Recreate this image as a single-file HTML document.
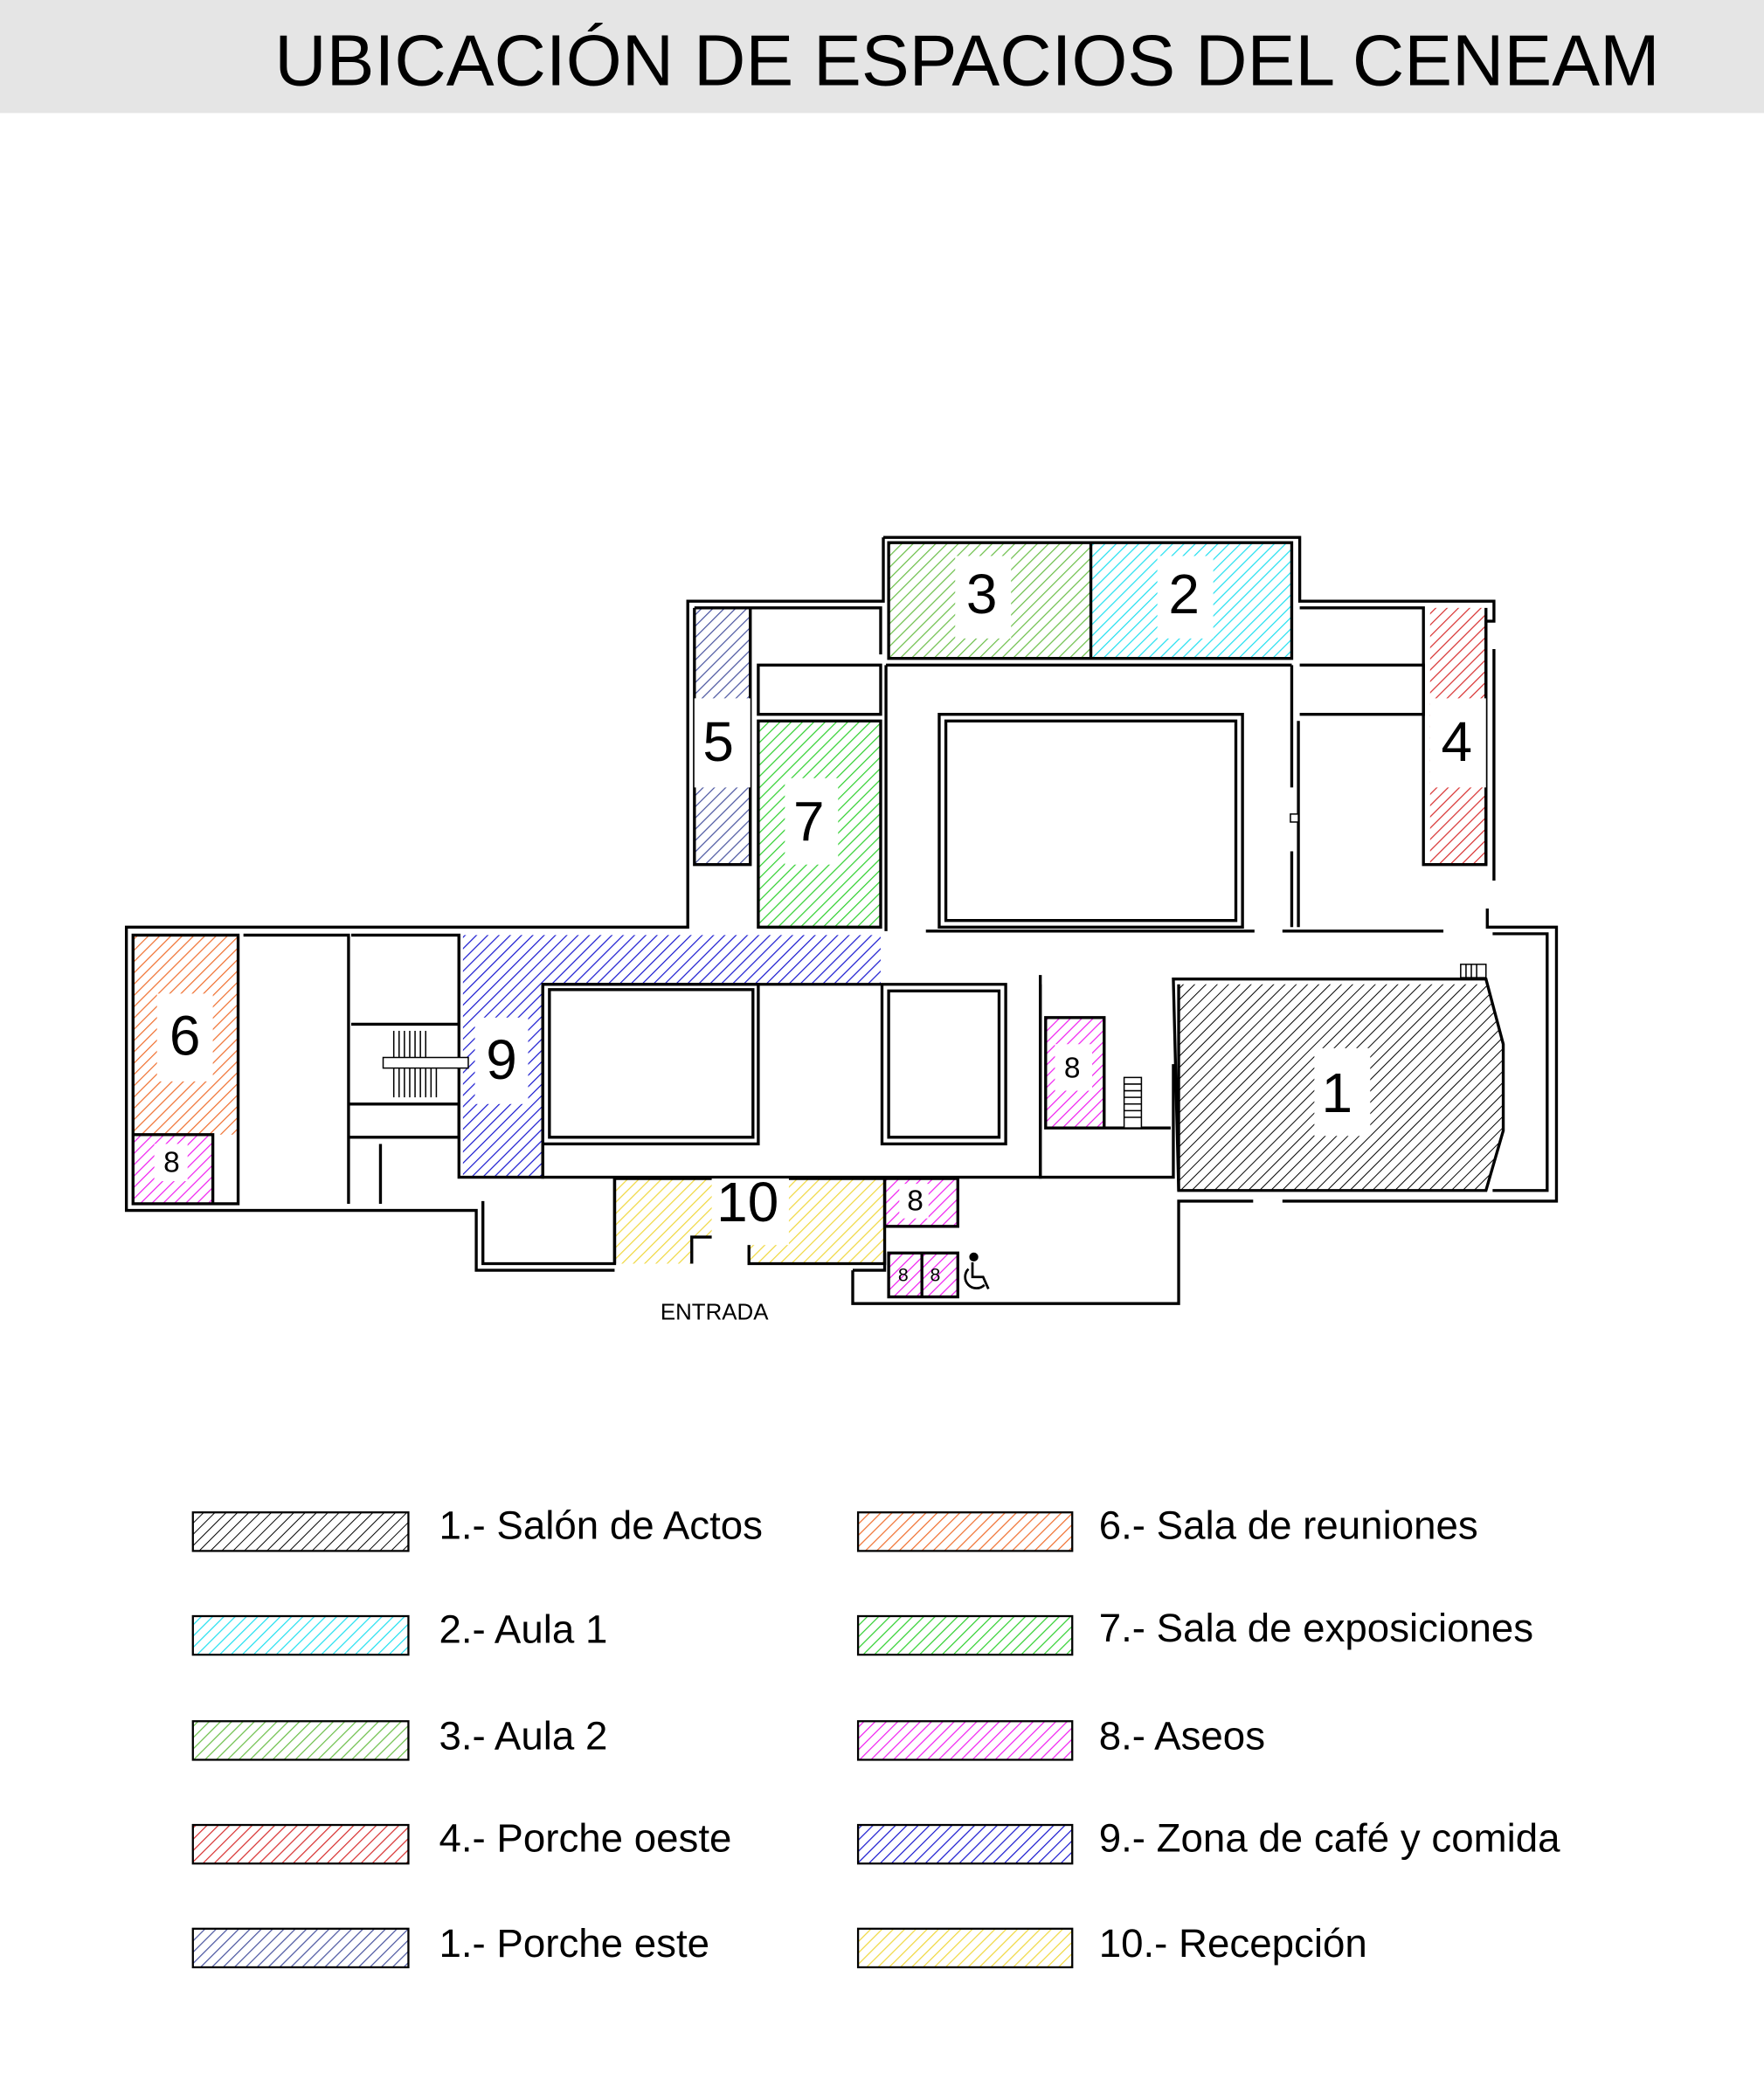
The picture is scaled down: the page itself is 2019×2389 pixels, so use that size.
<!DOCTYPE html>
<html><head><meta charset="utf-8"><style>
html,body{margin:0;padding:0;background:#fff}
svg{display:block}
text{font-family:"Liberation Sans",sans-serif}
</style></head><body>
<svg width="2019" height="2389" viewBox="0 0 1326 1569" xmlns="http://www.w3.org/2000/svg">
<defs>
<pattern id="hk" width="6" height="6" patternUnits="userSpaceOnUse" patternTransform="rotate(45)"><line x1="0" y1="0" x2="0" y2="6" stroke="#000" stroke-width="1.3"/></pattern>
<pattern id="hc" width="6" height="6" patternUnits="userSpaceOnUse" patternTransform="rotate(45)"><line x1="0" y1="0" x2="0" y2="6" stroke="#22e0f0" stroke-width="1.6"/></pattern>
<pattern id="hg" width="6" height="6" patternUnits="userSpaceOnUse" patternTransform="rotate(45)"><line x1="0" y1="0" x2="0" y2="6" stroke="#6cbf4a" stroke-width="1.6"/></pattern>
<pattern id="hr" width="6" height="6" patternUnits="userSpaceOnUse" patternTransform="rotate(45)"><line x1="0" y1="0" x2="0" y2="6" stroke="#d83030" stroke-width="1.6"/></pattern>
<pattern id="hn" width="6" height="6" patternUnits="userSpaceOnUse" patternTransform="rotate(45)"><line x1="0" y1="0" x2="0" y2="6" stroke="#4a55a0" stroke-width="1.6"/></pattern>
<pattern id="ho" width="6" height="6" patternUnits="userSpaceOnUse" patternTransform="rotate(45)"><line x1="0" y1="0" x2="0" y2="6" stroke="#f07030" stroke-width="1.6"/></pattern>
<pattern id="hl" width="6" height="6" patternUnits="userSpaceOnUse" patternTransform="rotate(45)"><line x1="0" y1="0" x2="0" y2="6" stroke="#30d030" stroke-width="1.6"/></pattern>
<pattern id="hm" width="6" height="6" patternUnits="userSpaceOnUse" patternTransform="rotate(45)"><line x1="0" y1="0" x2="0" y2="6" stroke="#f020f0" stroke-width="1.6"/></pattern>
<pattern id="hb" width="6" height="6" patternUnits="userSpaceOnUse" patternTransform="rotate(45)"><line x1="0" y1="0" x2="0" y2="6" stroke="#1a1ad0" stroke-width="1.6"/></pattern>
<pattern id="hy" width="6" height="6" patternUnits="userSpaceOnUse" patternTransform="rotate(45)"><line x1="0" y1="0" x2="0" y2="6" stroke="#f0d840" stroke-width="1.6"/></pattern>
</defs>
<rect x="0" y="0" width="1326" height="85" fill="#e5e5e5"/>
<text x="727" y="64" font-size="54" text-anchor="middle" fill="#000">UBICACIÓN DE ESPACIOS DEL CENEAM</text>

<rect x="668" y="408" width="152" height="87" fill="url(#hg)"/>
<rect x="820" y="408" width="151" height="87" fill="url(#hc)"/>
<rect x="522" y="457" width="42" height="193" fill="url(#hn)"/>
<rect x="1075" y="457" width="42" height="193" fill="url(#hr)"/>
<rect x="570" y="542" width="92" height="155" fill="url(#hl)"/>
<rect x="100" y="703" width="79" height="150" fill="url(#ho)"/>
<rect x="100" y="853" width="60" height="52" fill="url(#hm)"/>
<path d="M348 703H662V740H408V885H348Z" fill="url(#hb)"/>
<path d="M886 740H1117L1130 785L1130 850L1117 895H886Z" fill="url(#hk)"/>
<rect x="786" y="765" width="44" height="83" fill="url(#hm)"/>
<path d="M463 886H665V950H563V930H520V950H463Z" fill="url(#hy)"/>
<rect x="665" y="886" width="55" height="36" fill="url(#hm)"/>
<rect x="668" y="942" width="25" height="33" fill="url(#hm)"/>
<rect x="693" y="942" width="27" height="33" fill="url(#hm)"/>

<g fill="none" stroke="#000" stroke-width="2.2">
<path d="M664 404H977V452H1123V467H1117V650"/>
<path d="M664 404V452H517V697H95V910H358V955H462"/>
<path d="M668 408H971V495H668Z"/>
<path d="M820 408V495"/>
<path d="M522 457H662V492M522 457V650H564V457"/>
<path d="M977 457H1070V650H1117V457"/>
<path d="M1123 488V662"/>
<path d="M570 500H662V537H570Z"/>
<path d="M977 500H1070V537H977"/>
<path d="M570 542H662V697H570Z"/>
<path d="M666 500H971"/>
<path d="M706 537H934V697H706Z"/>
<path d="M711 542H929V692H711Z"/>
<path d="M666 500V700M971 500V592M971 640V697"/>
<path d="M696 700H943M964 700H1085M976 542V697"/>
<path d="M1118 683V697H1170V903H964M942 903H886V980H641V955"/>
<path d="M1122 702H1163V895H1122"/>
<path d="M882 736H1117L1130 785V850L1117 895H886Z"/>
<path d="M886 740V895"/>
<path d="M100 703H179V905H100Z"/>
<path d="M100 853H160V905"/>
<path d="M183 703H262V905M264 703H345V770H264M262 830H345V855H262"/>
<path d="M345 703V885H408V740H662"/>
<path d="M408 740V885H782V740"/>
<path d="M413 744H566V855H413Z M408 740H570V860H408"/>
<path d="M663 740H756V860H663Z M668 745H751V855H668Z"/>
<path d="M782 733V885H882V800"/>
<path d="M786 765H830V848H786Z M830 848H880"/>
<path d="M363 903V950H462V886H665V950H563V930H520V950"/>
<path d="M462 886V950"/>
<path d="M665 886H720V922H665Z"/>
<path d="M668 942H720V975H668Z M693 942V975"/>
<path d="M641 955H665V942"/>
<path d="M286 860V905"/>
</g>
<g stroke="#000" stroke-width="1" fill="none">
<path d="M288 795H352V803H288Z" fill="#fff"/>
<path d="M296 775V795M300 775V795M304 775V795M308 775V795M312 775V795M316 775V795M320 775V795M296 803V825M300 803V825M304 803V825M308 803V825M312 803V825M316 803V825M320 803V825M324 803V825M328 803V825"/>
<path d="M845 810H858V848H845Z" fill="#fff"/>
<path d="M845 815H858M845 820H858M845 825H858M845 830H858M845 835H858M845 840H858"/>
<path d="M1098 725H1117V735H1098Z M1102 725V735M1106 725V735M1110 725V735"/>
<rect x="970" y="612" width="6" height="6" fill="#fff"/>
</g>

<g fill="#fff">
<rect x="718" y="418" width="42" height="62"/><rect x="870" y="418" width="42" height="62"/>
<rect x="522" y="525" width="42" height="67"/><rect x="1075" y="525" width="42" height="67"/>
<rect x="590" y="585" width="40" height="65"/><rect x="118" y="747" width="42" height="66"/>
<rect x="357" y="765" width="40" height="65"/><rect x="988" y="788" width="42" height="66"/>
<rect x="535" y="886" width="58" height="50"/>
<rect x="116" y="860" width="25" height="28"/><rect x="793" y="785" width="28" height="35"/>
<rect x="676" y="890" width="22" height="26"/>
</g>
<g font-size="42" text-anchor="middle" fill="#000">
<text x="738" y="461">3</text><text x="890" y="461">2</text>
<text x="540" y="572">5</text><text x="1095" y="572">4</text>
<text x="608" y="632">7</text><text x="139" y="793">6</text>
<text x="377" y="811">9</text><text x="1005" y="836">1</text>
<text x="562" y="918">10</text>
</g>
<g font-size="22" text-anchor="middle" fill="#000">
<text x="129" y="881">8</text><text x="806" y="810">8</text><text x="688" y="910">8</text>
</g>
<g font-size="14" text-anchor="middle" fill="#000"><text x="679" y="963">8</text><text x="703" y="963">8</text></g>
<g fill="none" stroke="#000" stroke-width="1.8">
<circle cx="732" cy="945" r="2.5" fill="#000"/>
<path d="M731 949V960H739L743 969"/>
<path d="M728 954A8 8 0 1 0 740 966"/>
</g>
<text x="537" y="992" font-size="17" text-anchor="middle">ENTRADA</text>

<g stroke="#000" stroke-width="1.5">
<rect x="145" y="1137" width="162" height="29" fill="url(#hk)"/>
<rect x="145" y="1215" width="162" height="29" fill="url(#hc)"/>
<rect x="145" y="1294" width="162" height="29" fill="url(#hg)"/>
<rect x="145" y="1372" width="162" height="29" fill="url(#hr)"/>
<rect x="145" y="1450" width="162" height="29" fill="url(#hn)"/>
<rect x="645" y="1137" width="161" height="29" fill="url(#ho)"/>
<rect x="645" y="1215" width="161" height="29" fill="url(#hl)"/>
<rect x="645" y="1294" width="161" height="29" fill="url(#hm)"/>
<rect x="645" y="1372" width="161" height="29" fill="url(#hb)"/>
<rect x="645" y="1450" width="161" height="29" fill="url(#hy)"/>
</g>
<g font-size="30" fill="#000">
<text x="330" y="1157">1.- Salón de Actos</text>
<text x="330" y="1235">2.- Aula 1</text>
<text x="330" y="1315">3.- Aula 2</text>
<text x="330" y="1392">4.- Porche oeste</text>
<text x="330" y="1471">1.- Porche este</text>
<text x="826" y="1157">6.- Sala de reuniones</text>
<text x="826" y="1234">7.- Sala de exposiciones</text>
<text x="826" y="1315">8.- Aseos</text>
<text x="826" y="1392">9.- Zona de café y comida</text>
<text x="826" y="1471">10.- Recepción</text>
</g>
</svg>
</body></html>
